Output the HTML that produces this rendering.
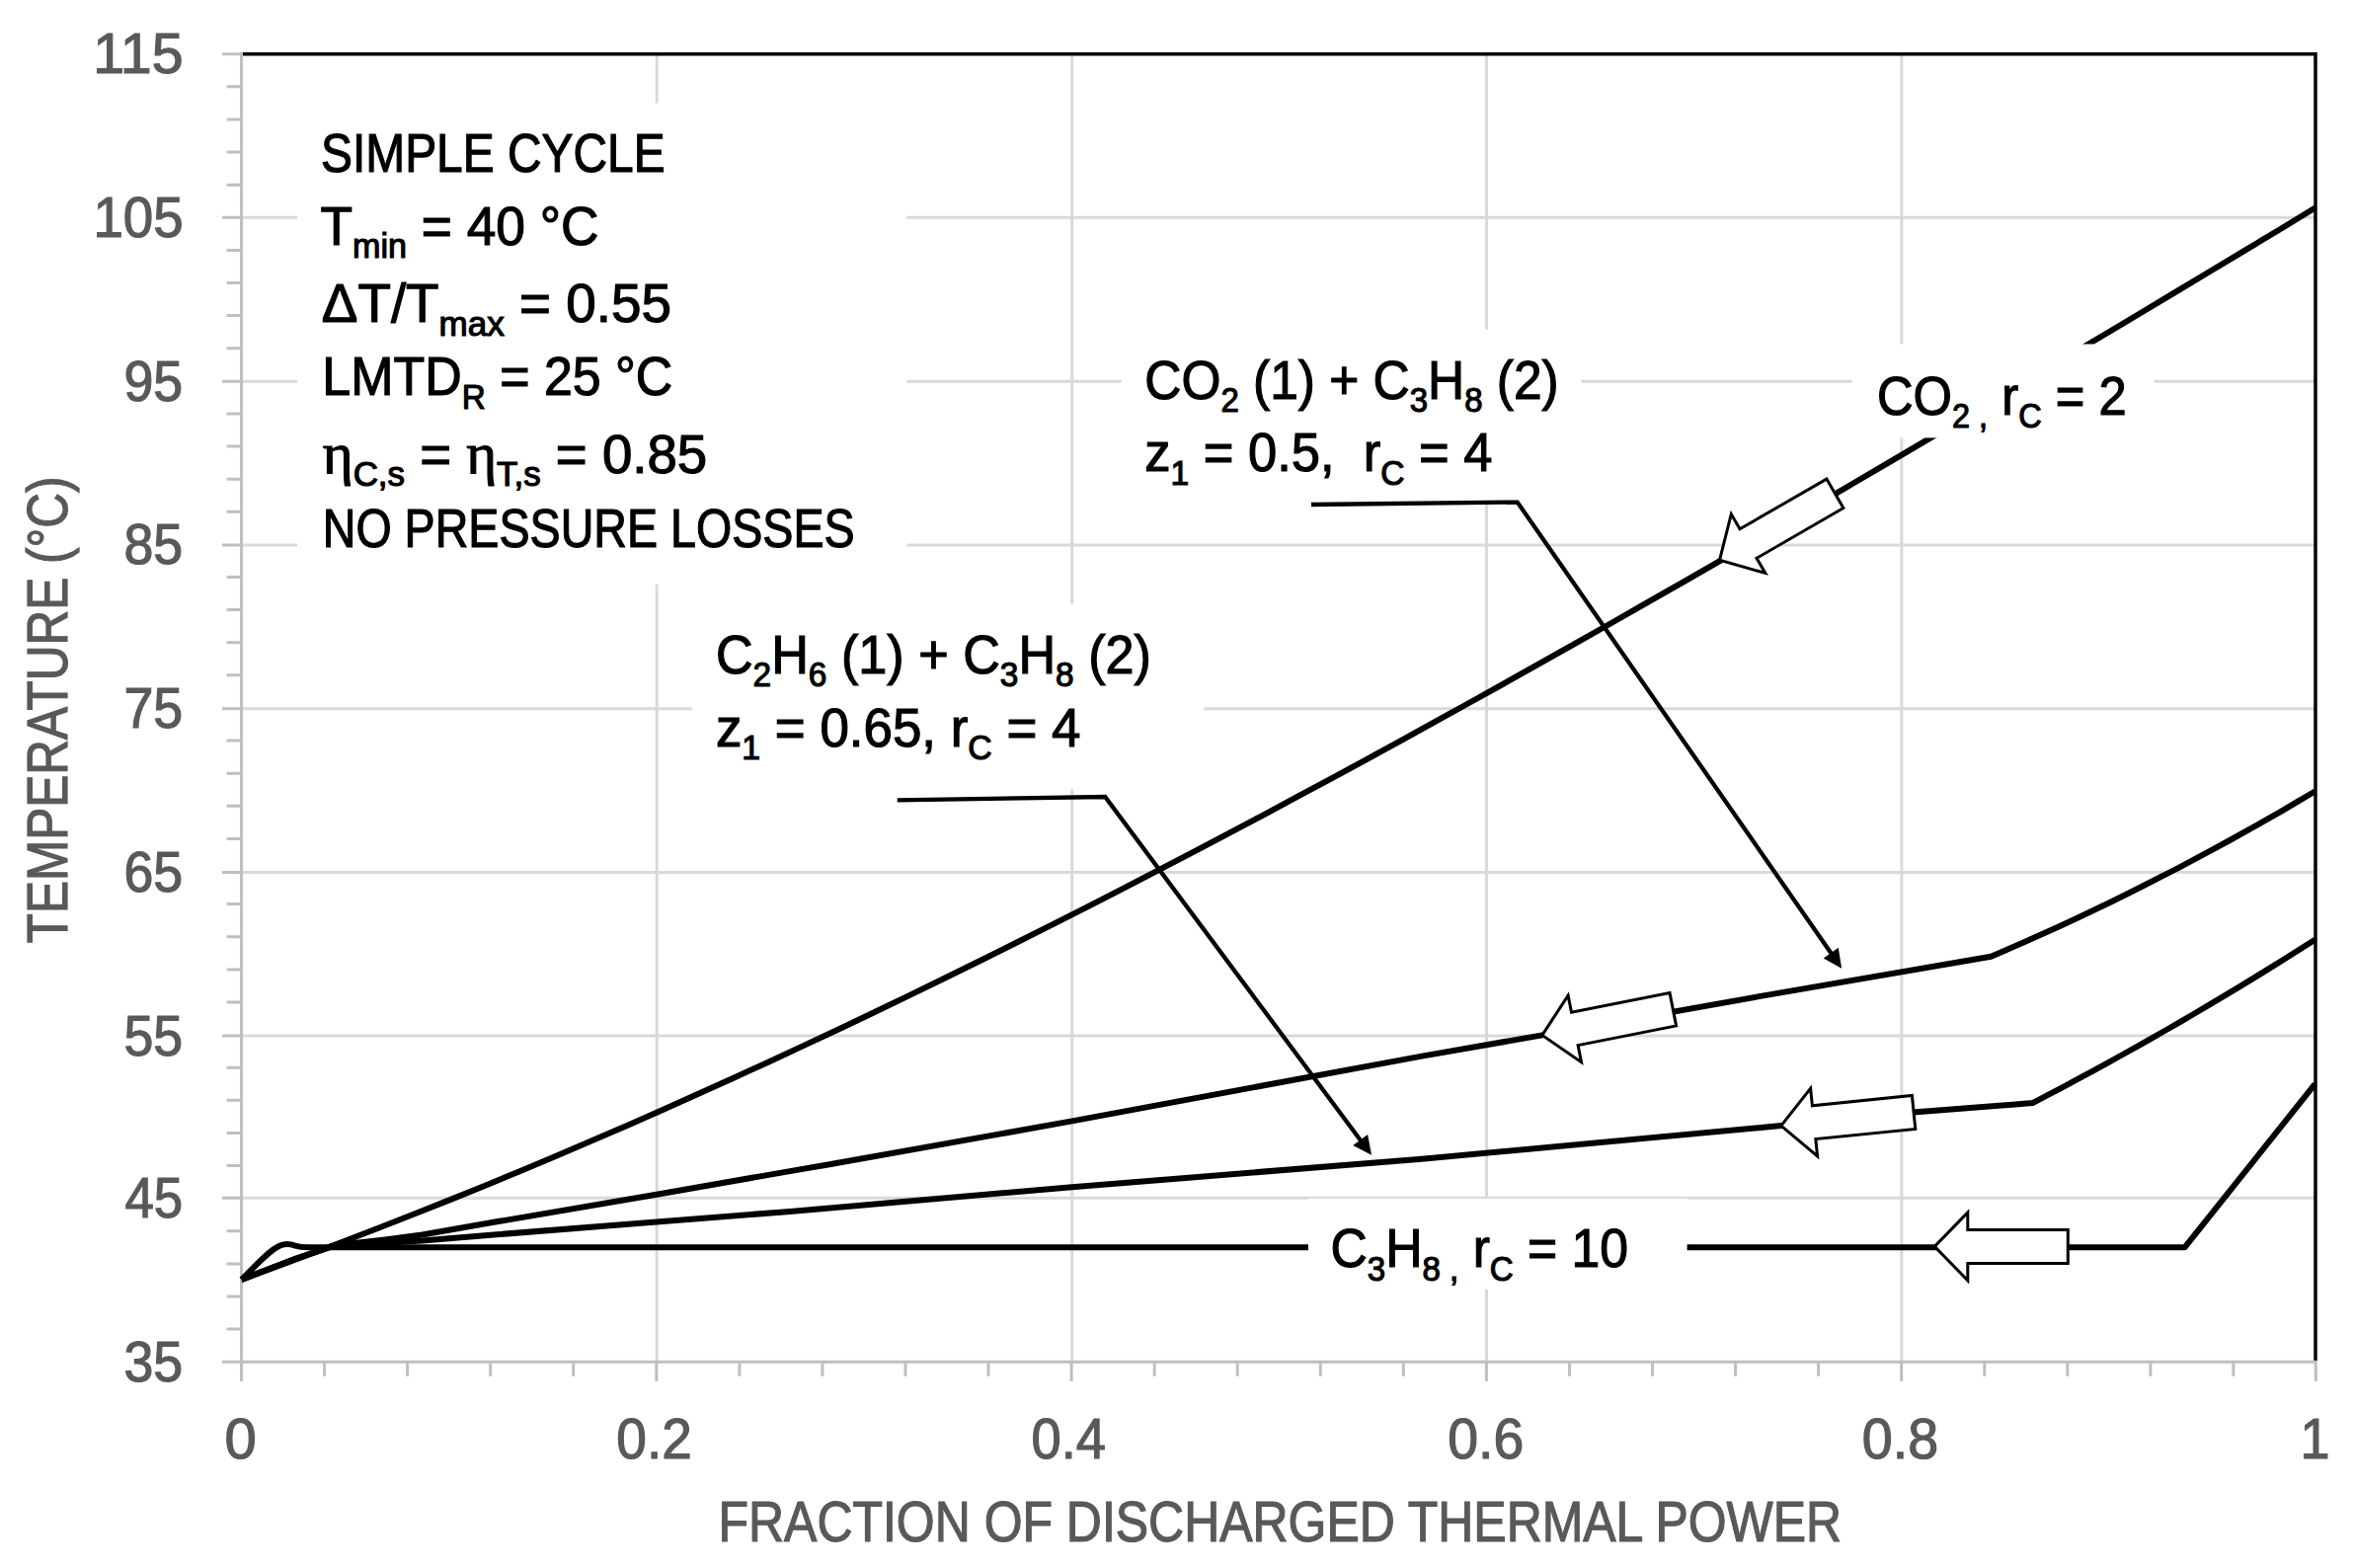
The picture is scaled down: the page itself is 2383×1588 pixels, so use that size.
<!DOCTYPE html><html><head><meta charset="utf-8"><title>Temperature vs fraction of discharged thermal power</title>
<style>html,body{margin:0;padding:0;background:#fff;}svg{display:block;font-family:'Liberation Sans', sans-serif;}</style></head><body>
<svg width="2383" height="1588" viewBox="0 0 2383 1588">
<rect width="2383" height="1588" fill="#fff"/>
<path d="M244.5 1213.3H2346.0M244.5 1049.1H2346.0M244.5 883.4H2346.0M244.5 717.7H2346.0M244.5 552.0H2346.0M244.5 386.3H2346.0M244.5 220.3H2346.0M665.2 54.7V1379.2M1085.7 54.7V1379.2M1505.5 54.7V1379.2M1925.9 54.7V1379.2" stroke="#d9d9d9" stroke-width="3" fill="none"/>
<path d="M244.5 54.85H2346.8M2345 53.1V1378.4" stroke="#000" stroke-width="3.5" fill="none"/>
<path d="M244.5 53.0V1399.0M225.0 1379.2H2346.8M225 1379.2H244.5M229.6 1346.1H244.5M229.6 1313.0H244.5M229.6 1279.9H244.5M229.6 1246.8H244.5M225 1213.3H244.5M229.6 1180.5H244.5M229.6 1147.4H244.5M229.6 1114.3H244.5M229.6 1081.2H244.5M225 1049.1H244.5M229.6 1015.0H244.5M229.6 981.9H244.5M229.6 948.7H244.5M229.6 915.6H244.5M225 883.4H244.5M229.6 849.4H244.5M229.6 816.3H244.5M229.6 783.2H244.5M229.6 750.1H244.5M225 717.7H244.5M229.6 683.8H244.5M229.6 650.7H244.5M229.6 617.6H244.5M229.6 584.5H244.5M225 552.0H244.5M229.6 518.3H244.5M229.6 485.2H244.5M229.6 452.1H244.5M229.6 418.9H244.5M225 386.3H244.5M229.6 352.7H244.5M229.6 319.6H244.5M229.6 286.5H244.5M229.6 253.4H244.5M225 220.3H244.5M229.6 187.2H244.5M229.6 154.0H244.5M229.6 120.9H244.5M229.6 87.8H244.5M225 54.7H244.5M244.5 1379.2V1399M328.6 1379.2V1393.8M412.6 1379.2V1393.8M496.7 1379.2V1393.8M580.7 1379.2V1393.8M664.8 1379.2V1399M748.9 1379.2V1393.8M832.9 1379.2V1393.8M917.0 1379.2V1393.8M1001.0 1379.2V1393.8M1085.1 1379.2V1399M1169.2 1379.2V1393.8M1253.2 1379.2V1393.8M1337.3 1379.2V1393.8M1421.3 1379.2V1393.8M1505.4 1379.2V1399M1589.5 1379.2V1393.8M1673.5 1379.2V1393.8M1757.6 1379.2V1393.8M1841.6 1379.2V1393.8M1925.7 1379.2V1399M2009.8 1379.2V1393.8M2093.8 1379.2V1393.8M2177.9 1379.2V1393.8M2261.9 1379.2V1393.8M2345.3 1379.2V1399" stroke="#bfbfbf" stroke-width="3" fill="none"/>
<g stroke="#000" stroke-width="6.0" fill="none" stroke-linejoin="round">
<path d="M244.6 1295.9 L280.2 1282.6 L315.8 1269.5 L351.4 1256.0 L387.0 1242.3 L422.6 1228.3 L458.2 1214.1 L493.8 1199.7 L529.4 1184.9 L565.0 1170.0 L600.5 1154.8 L636.1 1139.4 L671.7 1123.7 L707.3 1107.8 L742.9 1091.7 L778.5 1075.4 L814.1 1058.9 L849.7 1042.2 L885.3 1025.2 L920.9 1008.1 L956.5 990.8 L992.1 973.2 L1027.7 955.5 L1063.3 937.6 L1098.9 919.6 L1134.5 901.3 L1170.1 882.9 L1205.7 864.4 L1241.3 845.7 L1276.9 826.8 L1312.4 807.7 L1348.0 788.6 L1383.6 769.3 L1419.2 749.8 L1454.8 730.2 L1490.4 710.5 L1526.0 690.7 L1561.6 670.7 L1597.2 650.7 L1632.8 630.5 L1668.4 610.2 L1704.0 589.8 L1739.6 569.3 L1775.2 548.8 L1810.8 528.1 L1846.4 507.4 L1882.0 486.5 L1917.6 465.6 L1953.2 444.7 L1988.8 423.6 L2024.3 402.6 L2059.9 381.4 L2095.5 360.2 L2131.1 339.0 L2166.7 317.7 L2202.3 296.4 L2237.9 275.0 L2273.5 253.6 L2309.1 232.2 L2344.7 210.5"/>
<path d="M244.6 1295.9 L300.0 1274.5 L335.0 1262.5 L352.0 1259.8 L390.0 1255.5 L427.6 1250.5 L500.0 1237.8 L664.9 1209.7 L800.0 1186.1 L840.0 1179.3 L1085.7 1135.4 L1440.0 1069.6 L1561.9 1048.4 L1783.0 1008.9 L2016.4 968.7 L2033.7 961.3 L2050.9 953.8 L2068.2 946.1 L2085.5 938.2 L2102.7 930.2 L2120.0 922.0 L2137.3 913.7 L2154.5 905.2 L2171.8 896.5 L2189.1 887.7 L2206.4 878.8 L2223.6 869.7 L2240.9 860.4 L2258.2 851.0 L2275.4 841.4 L2292.7 831.7 L2310.0 821.8 L2327.2 811.7 L2344.5 801.5"/>
<path d="M244.6 1295.9 L300.0 1274.5 L335.0 1263.0 L352.0 1261.0 L390.0 1258.8 L427.6 1256.5 L500.0 1250.5 L664.9 1237.5 L800.0 1226.9 L840.0 1223.6 L1085.7 1202.2 L1440.0 1173.7 L1803.8 1140.1 L1937.4 1126.6 L2058.5 1117.1 L2073.6 1109.2 L2088.6 1101.3 L2103.7 1093.2 L2118.7 1085.1 L2133.8 1076.9 L2148.8 1068.5 L2163.9 1060.1 L2178.9 1051.6 L2194.0 1043.0 L2209.0 1034.3 L2224.1 1025.5 L2239.1 1016.6 L2254.2 1007.6 L2269.2 998.6 L2284.3 989.4 L2299.3 980.1 L2314.4 970.8 L2329.4 961.3 L2344.5 951.8"/>
<path d="M244.6 1295.9C258 1283 272 1266.5 283.6 1261.5C289 1259.2 293 1259.3 298 1261.3C302 1262.6 306 1263.3 312 1263.3H2212.5L2344.5 1097.9"/>
</g>
<rect x="301.0" y="104.6" width="617.4" height="487.2" fill="#fff"/>
<rect x="1135.7" y="333.8" width="465.6" height="177.2" fill="#fff"/>
<rect x="700.8" y="611.9" width="518.6" height="187.0" fill="#fff"/>
<rect x="1875.5" y="348.5" width="306.1" height="94.9" fill="#fff"/>
<rect x="1324.9" y="1213.9" width="383.7" height="92.1" fill="#fff"/>
<path d="M1741.5 567.3 L1753.3 520.7 L1762.0 535.8 L1849.9 485.1 L1866.9 514.5 L1779.0 565.3 L1787.8 580.4Z" fill="#fff" stroke="#000" stroke-width="3" stroke-linejoin="miter"/>
<path d="M1561.9 1048.4 L1588.1 1008.1 L1591.5 1025.2 L1691.0 1005.5 L1697.6 1038.9 L1598.1 1058.6 L1601.5 1075.7Z" fill="#fff" stroke="#000" stroke-width="3" stroke-linejoin="miter"/>
<path d="M1803.8 1140.1 L1833.6 1102.4 L1835.4 1119.8 L1936.4 1109.5 L1939.8 1143.4 L1838.8 1153.6 L1840.6 1171.0Z" fill="#fff" stroke="#000" stroke-width="3" stroke-linejoin="miter"/>
<path d="M1959.3 1262.4 L1992.8 1227.9 L1992.8 1245.4 L2094.3 1245.4 L2094.3 1279.4 L1992.8 1279.4 L1992.8 1296.9Z" fill="#fff" stroke="#000" stroke-width="3" stroke-linejoin="miter"/>
<path d="M1328.0 511.0L1536.7 508.6L1855.4 966.7" stroke="#000" stroke-width="4.3" fill="none" stroke-linejoin="miter"/><path d="M1865.1 980.7L1846.7 970.4L1861.8 959.8Z" fill="#000"/>
<path d="M908.7 810.4L1119.2 807.0L1378.9 1156.2" stroke="#000" stroke-width="4.3" fill="none" stroke-linejoin="miter"/><path d="M1389.0 1169.8L1370.2 1160.1L1385.1 1149.0Z" fill="#000"/>
<text id="a1" transform="translate(325.07 174.30) scale(0.8627 1)" font-size="55.5" fill="#000" stroke="#000" stroke-width="1.20" xml:space="preserve">SIMPLE CYCLE</text>
<text id="a2" transform="translate(324.54 247.80) scale(0.9598 1)" font-size="55.5" fill="#000" stroke="#000" stroke-width="1.20" xml:space="preserve">T<tspan font-size="35.5" dy="13.2">min</tspan><tspan dy="-13.2"> = 40 °C</tspan></text>
<text id="a3" transform="translate(325.81 326.30) scale(0.9874 1)" font-size="55.5" fill="#000" stroke="#000" stroke-width="1.20" xml:space="preserve">ΔT/T<tspan font-size="35.5" dy="13.2">max</tspan><tspan dy="-13.2"> = 0.55</tspan></text>
<text id="a4" transform="translate(326.36 400.30) scale(0.9358 1)" font-size="55.5" fill="#000" stroke="#000" stroke-width="1.20" xml:space="preserve">LMTD<tspan font-size="35.5" dy="13.2">R</tspan><tspan dy="-13.2"> = 25 °C</tspan></text>
<text id="a5" transform="translate(326.80 478.50) scale(0.9840 1)" font-size="55.5" fill="#000" stroke="#000" stroke-width="1.20" xml:space="preserve"><tspan font-family="'Liberation Serif', serif" font-size="59.9" dy="0.0">η</tspan><tspan font-size="35.5" dy="13.2">C,s</tspan><tspan dy="-13.2"> = </tspan><tspan font-family="'Liberation Serif', serif" font-size="59.9" dy="0.0">η</tspan><tspan font-size="35.5" dy="13.2">T,s</tspan><tspan dy="-13.2"> = 0.85</tspan></text>
<text id="a6" transform="translate(326.74 553.70) scale(0.8399 1)" font-size="55.5" fill="#000" stroke="#000" stroke-width="1.20" xml:space="preserve">NO PRESSURE LOSSES</text>
<text id="b1" transform="translate(1159.35 404.00) scale(0.9270 1)" font-size="55.5" fill="#000" stroke="#000" stroke-width="1.20" xml:space="preserve">CO<tspan font-size="35.5" dy="13.2">2</tspan><tspan dy="-13.2"> (1) + C</tspan><tspan font-size="35.5" dy="13.2">3</tspan><tspan dy="-13.2">H</tspan><tspan font-size="35.5" dy="13.2">8</tspan><tspan dy="-13.2"> (2)</tspan></text>
<text id="b2" transform="translate(1159.31 477.40) scale(0.9458 1)" font-size="55.5" fill="#000" stroke="#000" stroke-width="1.20" xml:space="preserve">z<tspan font-size="35.5" dy="13.2">1</tspan><tspan dy="-13.2"> = 0.5,  r</tspan><tspan font-size="35.5" dy="13.2">C</tspan><tspan dy="-13.2"> = 4</tspan></text>
<text id="c1" transform="translate(724.92 681.50) scale(0.9403 1)" font-size="55.5" fill="#000" stroke="#000" stroke-width="1.20" xml:space="preserve">C<tspan font-size="35.5" dy="13.2">2</tspan><tspan dy="-13.2">H</tspan><tspan font-size="35.5" dy="13.2">6</tspan><tspan dy="-13.2"> (1) + C</tspan><tspan font-size="35.5" dy="13.2">3</tspan><tspan dy="-13.2">H</tspan><tspan font-size="35.5" dy="13.2">8</tspan><tspan dy="-13.2"> (2)</tspan></text>
<text id="c2" transform="translate(724.89 755.50) scale(0.9530 1)" font-size="55.5" fill="#000" stroke="#000" stroke-width="1.20" xml:space="preserve">z<tspan font-size="35.5" dy="13.2">1</tspan><tspan dy="-13.2"> = 0.65, r</tspan><tspan font-size="35.5" dy="13.2">C</tspan><tspan dy="-13.2"> = 4</tspan></text>
<text id="d1" transform="translate(1900.97 419.90) scale(0.9143 1)" font-size="55.5" fill="#000" stroke="#000" stroke-width="1.20" xml:space="preserve">CO<tspan font-size="35.5" dy="13.2">2 ,</tspan><tspan dy="-13.2"> r</tspan><tspan font-size="35.5" dy="13.2">C</tspan><tspan dy="-13.2"> = 2</tspan></text>
<text id="e1" transform="translate(1347.54 1283.30) scale(0.9309 1)" font-size="55.5" fill="#000" stroke="#000" stroke-width="1.20" xml:space="preserve">C<tspan font-size="35.5" dy="13.2">3</tspan><tspan dy="-13.2">H</tspan><tspan font-size="35.5" dy="13.2">8 ,</tspan><tspan dy="-13.2"> r</tspan><tspan font-size="35.5" dy="13.2">C</tspan><tspan dy="-13.2"> = 10</tspan></text>
<text id="xt" transform="translate(727.56 1561.20) scale(0.8840 1)" font-size="56.5" fill="#595959" stroke="#595959" stroke-width="1.20" xml:space="preserve">FRACTION OF DISCHARGED THERMAL POWER</text>
<text id="yt" transform="translate(67.90 955.18) rotate(-90) scale(0.8763 1)" font-size="56.5" fill="#595959" stroke="#595959" stroke-width="1.20" xml:space="preserve">TEMPERATURE (°C)</text>
<text id="y35" transform="translate(125.50 1398.60) scale(0.9508 1)" font-size="56.5" fill="#595959" stroke="#595959" stroke-width="1.20" xml:space="preserve">35</text>
<text id="y45" transform="translate(126.47 1232.70) scale(0.9350 1)" font-size="56.5" fill="#595959" stroke="#595959" stroke-width="1.20" xml:space="preserve">45</text>
<text id="y55" transform="translate(125.50 1068.50) scale(0.9508 1)" font-size="56.5" fill="#595959" stroke="#595959" stroke-width="1.20" xml:space="preserve">55</text>
<text id="y65" transform="translate(125.50 902.80) scale(0.9508 1)" font-size="56.5" fill="#595959" stroke="#595959" stroke-width="1.20" xml:space="preserve">65</text>
<text id="y75" transform="translate(125.50 737.10) scale(0.9508 1)" font-size="56.5" fill="#595959" stroke="#595959" stroke-width="1.20" xml:space="preserve">75</text>
<text id="y85" transform="translate(125.50 571.40) scale(0.9508 1)" font-size="56.5" fill="#595959" stroke="#595959" stroke-width="1.20" xml:space="preserve">85</text>
<text id="y95" transform="translate(125.50 405.70) scale(0.9508 1)" font-size="56.5" fill="#595959" stroke="#595959" stroke-width="1.20" xml:space="preserve">95</text>
<text id="y105" transform="translate(94.43 239.70) scale(0.9682 1)" font-size="56.5" fill="#595959" stroke="#595959" stroke-width="1.20" xml:space="preserve">105</text>
<text id="y115" transform="translate(94.24 74.10) scale(1.0143 1)" font-size="56.5" fill="#595959" stroke="#595959" stroke-width="1.20" xml:space="preserve">115</text>
<text id="x0" transform="translate(227.45 1477.20) scale(1.0250 1)" font-size="56.5" fill="#595959" stroke="#595959" stroke-width="1.20" xml:space="preserve">0</text>
<text id="x0_2" transform="translate(624.35 1477.20) scale(0.9730 1)" font-size="56.5" fill="#595959" stroke="#595959" stroke-width="1.20" xml:space="preserve">0.2</text>
<text id="x0_4" transform="translate(1044.48 1477.20) scale(0.9600 1)" font-size="56.5" fill="#595959" stroke="#595959" stroke-width="1.20" xml:space="preserve">0.4</text>
<text id="x0_6" transform="translate(1466.24 1477.20) scale(0.9811 1)" font-size="56.5" fill="#595959" stroke="#595959" stroke-width="1.20" xml:space="preserve">0.6</text>
<text id="x0_8" transform="translate(1885.83 1477.20) scale(0.9853 1)" font-size="56.5" fill="#595959" stroke="#595959" stroke-width="1.20" xml:space="preserve">0.8</text>
<text id="x1" transform="translate(2329.48 1477.20) scale(0.9560 1)" font-size="56.5" fill="#595959" stroke="#595959" stroke-width="1.20" xml:space="preserve">1</text>
</svg></body></html>
